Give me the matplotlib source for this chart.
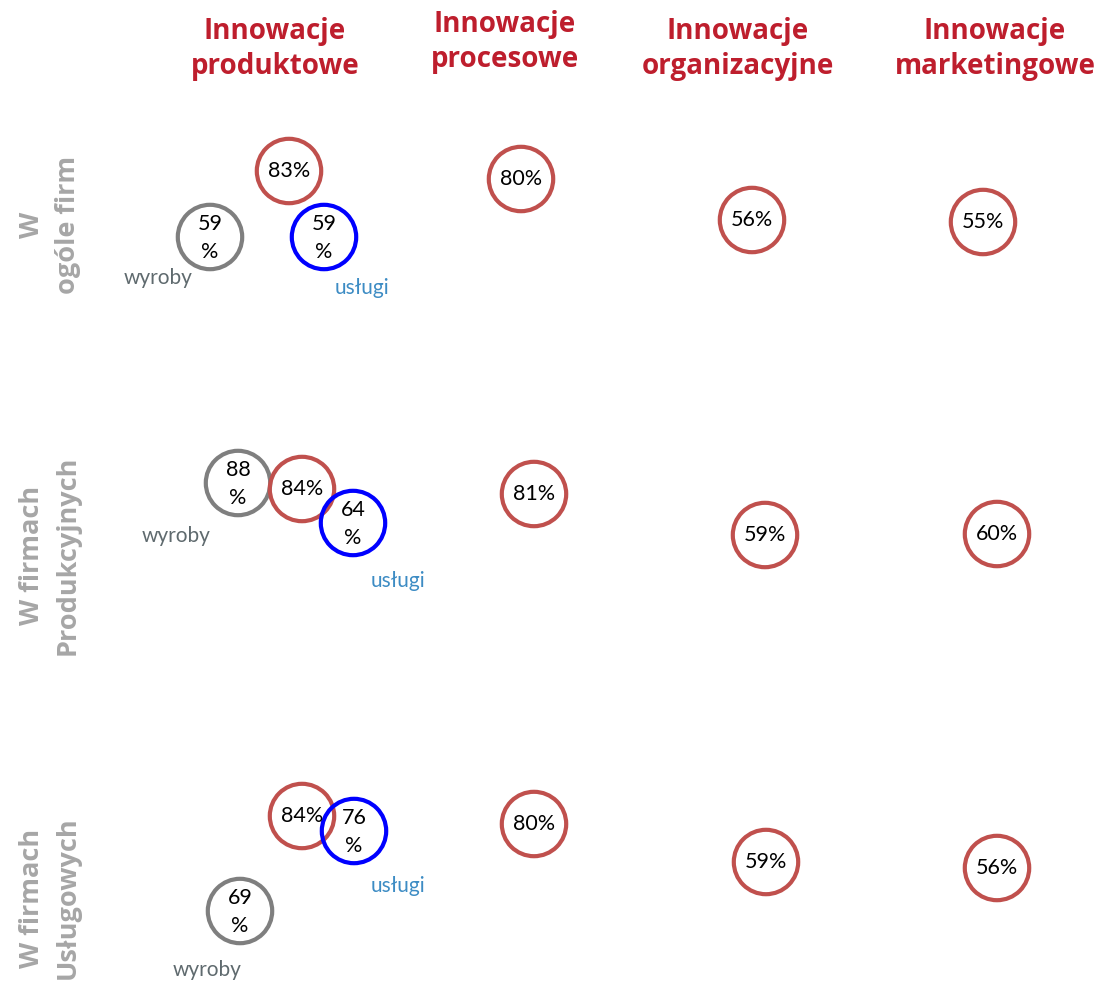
import matplotlib
matplotlib.use("Agg")
import matplotlib.pyplot as plt

# column headers and row headers
columns = ["Innowacje\nproduktowe", "Innowacje\nprocesowe",
           "Innowacje\norganizacyjne", "Innowacje\nmarketingowe"]
rows = ["W\nogóle firm", "W firmach\nProdukcyjnych", "W firmach\nUsługowych"]

# values, one list per series, one entry per row
prod_all = [83, 84, 84]      # innowacje produktowe ogółem
prod_goods = [59, 88, 69]    # wyroby
prod_serv = [59, 64, 76]     # usługi
process = [80, 81, 80]
organis = [56, 59, 59]
market = [55, 60, 56]

# layout (pixel positions on the page, picked by hand like the original)
col_x = [275, 505, 738, 995]
col_y = [49, 42, 49, 49]
row_lab_y = [225, 555, 898]
pos_prod_all = [(289, 171), (302, 489), (302, 816)]
pos_goods = [(210, 237), (238, 483), (240, 911)]
pos_serv = [(324, 237), (353, 523), (354, 831)]
pos_process = [(521, 179), (534, 494), (534, 824)]
pos_organis = [(752, 220), (765, 535), (766, 862)]
pos_market = [(983, 222), (997, 534), (997, 868)]
pos_goods_lab = [(158, 278), (176, 536), (207, 970)]
pos_serv_lab = [(362, 288), (398, 581), (398, 886)]

RED = "#c0504d"
GRAY = "#7f7f7f"
BLUE = "#0000ff"
TITLE = "#be1e2d"

fig = plt.figure(figsize=(10.97, 9.81), dpi=100)
ax = fig.add_axes([0, 0, 1, 1])
ax.set_xlim(0, 1097)
ax.set_ylim(981, 0)
ax.axis("off")

txt_font = ["Lato", "DejaVu Sans"]
head_font = ["Open Sans", "DejaVu Sans"]


def circles(pos, vals, color, split, z):
    xs = [p[0] for p in pos]
    ys = [p[1] for p in pos]
    ax.scatter(xs, ys, s=2150, facecolors="none", edgecolors=color,
               linewidths=3.0, zorder=z)
    for (x, y), v in zip(pos, vals):
        label = "%d\n%%" % v if split else "%d%%" % v
        ax.text(x, y + (1 if split else 0), label, ha="center", va="center",
                fontsize=15.5, family=txt_font, color="black",
                linespacing=1.55, zorder=5)


circles(pos_goods, prod_goods, GRAY, True, 2)
circles(pos_prod_all, prod_all, RED, False, 3)
circles(pos_serv, prod_serv, BLUE, True, 4)
circles(pos_process, process, RED, False, 3)
circles(pos_organis, organis, RED, False, 3)
circles(pos_market, market, RED, False, 3)

for (x, y) in pos_goods_lab:
    ax.text(x, y, "wyroby", ha="center", va="center", fontsize=15,
            family=txt_font, color="#5f6a6e")
for (x, y) in pos_serv_lab:
    ax.text(x, y, "usługi", ha="center", va="center", fontsize=15,
            family=txt_font, color="#3d8cc4")

for name, x, y in zip(columns, col_x, col_y):
    ax.text(x, y, name, ha="center", va="center", fontsize=20,
            fontweight="bold", family=head_font, color=TITLE,
            linespacing=1.3)

for name, y in zip(rows, row_lab_y):
    ax.text(50, y, name, ha="center", va="center", rotation=90,
            fontsize=19.5, fontweight="bold", family=head_font,
            color="#a6a6a6", linespacing=1.5)

fig.savefig("out.png", dpi=100)
